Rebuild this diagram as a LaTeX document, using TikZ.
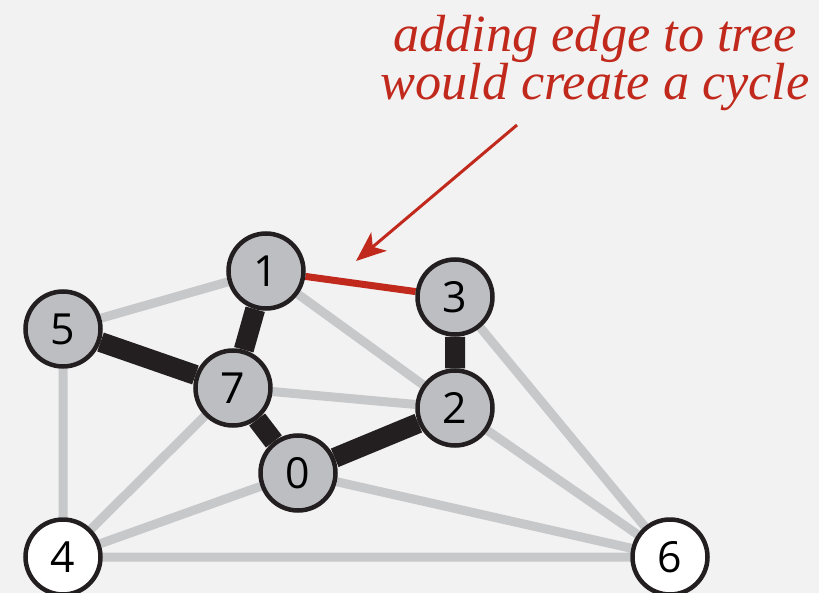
\documentclass[tikz,border=0pt]{standalone}
\usepackage{fontspec}
\setmainfont{Liberation Serif}
\setsansfont{Open Sans}
\usetikzlibrary{arrows.meta}
\definecolor{bgcol}{RGB}{242,242,242}
\definecolor{vfill}{RGB}{189,190,194}
\definecolor{vline}{RGB}{35,31,32}
\definecolor{egray}{RGB}{199,200,202}
\definecolor{ered}{RGB}{192,41,28}
\tikzstyle{vtx}=[circle,draw=vline,line width=4.5bp,fill=vfill,minimum size=75bp,inner sep=0pt,font=\sffamily\fontsize{43}{43}\selectfont]
\tikzstyle{leaf}=[vtx,fill=white]
\tikzstyle{gedge}=[draw=egray,line width=9bp]
\tikzstyle{tedge}=[draw=vline,line width=20bp]
\tikzstyle{cedge}=[draw=ered,line width=7bp]
\pgfdeclarelayer{bg}
\pgfdeclarelayer{edges}
\pgfsetlayers{bg,edges,main}
\begin{document}
\begin{tikzpicture}[x=1bp,y=-1bp]
\begin{pgfonlayer}{bg}
\fill[bgcol] (0,0) rectangle (819,593);
\end{pgfonlayer}
\useasboundingbox (0,0) rectangle (819,593);

% vertices
\path (266,271) node (v1) [vtx] {1}
      (455,297) node (v3) [vtx] {3}
      (63,329) node (v5) [vtx] {5}
      (233,388) node (v7) [vtx] {7}
      (455,408) node (v2) [vtx] {2}
      (298,473) node (v0) [vtx] {0}
      (63,557) node (v4) [leaf] {4}
      (670,557) node (v6) [leaf] {6};

\begin{pgfonlayer}{edges}
\draw[gedge] (v5) -- (v1) (v5) -- (v4) (v1) -- (v2) (v3) -- (v6)
  (v7) -- (v2) (v7) -- (v4) (v0) -- (v4) (v0) -- (v6)
  (v2) -- (v6) (v4) -- (v6);
\draw[tedge] (v1) -- (v7) (v5) -- (v7) (v7) -- (v0) (v0) -- (v2) (v3) -- (v2);
\draw[cedge] (v1) -- (v3);
\end{pgfonlayer}

% note with arrow
\node (note) at (595,63) [align=center,text=ered,font=\itshape\fontsize{52.5}{48}\selectfont]
  {adding edge to tree\\would create a cycle};
\coordinate (tail) at (517,125);
\coordinate (tip) at (356,261);
\draw[ered,line width=3bp,-{Stealth[length=30bp,width=24bp,inset=8bp]}] (tail) -- (tip);
\end{tikzpicture}
\end{document}
